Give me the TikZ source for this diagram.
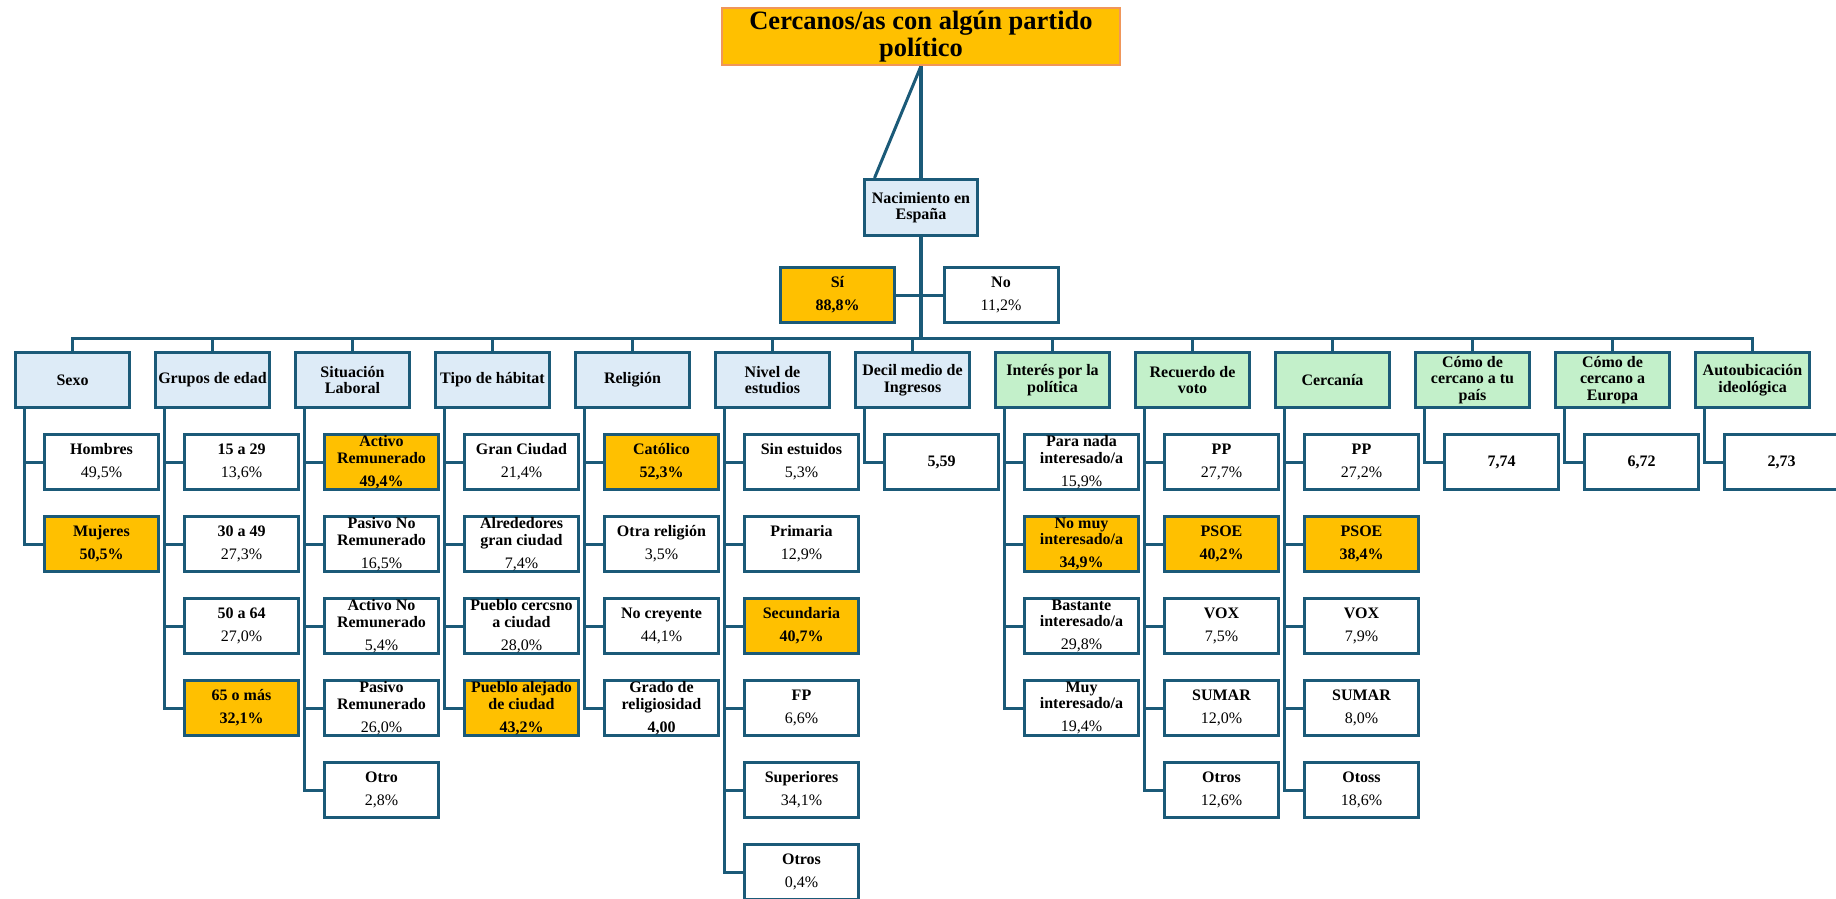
\documentclass[tikz,border=0pt]{standalone}
\usepackage{fontspec}
\setmainfont{Liberation Serif}
\usetikzlibrary{backgrounds}
\definecolor{lc}{HTML}{1B5A78}
\definecolor{catblue}{HTML}{DDEBF7}
\definecolor{catgreen}{HTML}{C3F0CA}
\definecolor{hlor}{HTML}{FFC000}
\definecolor{titbd}{HTML}{F0965A}
\newcommand{\chnode}[5]{\node[#4] (#1) at ({101.5+140*#2},{462+82*#3}) {#5};}
\newcommand{\catnode}[3]{\node[#2] (c#1) at ({72.5+140*#1},380) {#3};}
\begin{document}
\begin{tikzpicture}[x=1pt,y=-1pt,
  box/.style={draw=lc, line width=3pt, minimum width=114pt, minimum height=55pt,
    inner sep=0pt, align=center, font=\fontsize{16}{16.5}\selectfont\bfseries},
  catb/.style={box, fill=catblue},
  catg/.style={box, fill=catgreen},
  child/.style={box, fill=white},
  hl/.style={box, fill=hlor},
  conn/.style={draw=lc, line width=3pt}]
\useasboundingbox (0,0) rectangle (1836,898);
\clip (0,0) rectangle (1836,898);
% title
\node[draw=titbd, line width=2pt, fill=hlor, minimum width=398pt, minimum height=57pt,
  inner sep=0pt, align=center, font=\fontsize{26.5}{27.5}\selectfont\bfseries]
  (title) at (921,36.5) {Cercanos/as con algún partido\\político};
\node[catb, minimum width=113pt, minimum height=56pt] (nac) at (921,207.5) {Nacimiento en\\España};
\node[hl] (si) at (837.5,295) {Sí\\[6.5pt]88,8\%};
\node[child] (no) at (1001,295) {No\\[6.5pt]\mdseries 11,2\%};
% categories
\catnode{0}{catb}{Sexo}
\catnode{1}{catb}{Grupos de edad}
\catnode{2}{catb}{Situación\\Laboral}
\catnode{3}{catb}{Tipo de hábitat}
\catnode{4}{catb}{Religión}
\catnode{5}{catb}{Nivel de\\estudios}
\catnode{6}{catb}{Decil medio de\\Ingresos}
\catnode{7}{catg}{Interés por la\\política}
\catnode{8}{catg}{Recuerdo de\\voto}
\catnode{9}{catg}{Cercanía}
\catnode{10}{catg}{Cómo de\\cercano a tu\\país}
\catnode{11}{catg}{Cómo de\\cercano a\\Europa}
\catnode{12}{catg}{Autoubicación\\ideológica}
% children
\chnode{n0-0}{0}{0}{child}{Hombres\\[6.5pt]\mdseries 49,5\%}
\chnode{n0-1}{0}{1}{hl}{Mujeres\\[6.5pt]50,5\%}
\chnode{n1-0}{1}{0}{child}{15 a 29\\[6.5pt]\mdseries 13,6\%}
\chnode{n1-1}{1}{1}{child}{30 a 49\\[6.5pt]\mdseries 27,3\%}
\chnode{n1-2}{1}{2}{child}{50 a 64\\[6.5pt]\mdseries 27,0\%}
\chnode{n1-3}{1}{3}{hl}{65 o más\\[6.5pt]32,1\%}
\chnode{n2-0}{2}{0}{hl}{Activo\\Remunerado\\[6.5pt]49,4\%}
\chnode{n2-1}{2}{1}{child}{Pasivo No\\Remunerado\\[6.5pt]\mdseries 16,5\%}
\chnode{n2-2}{2}{2}{child}{Activo No\\Remunerado\\[6.5pt]\mdseries 5,4\%}
\chnode{n2-3}{2}{3}{child}{Pasivo\\Remunerado\\[6.5pt]\mdseries 26,0\%}
\chnode{n2-4}{2}{4}{child}{Otro\\[6.5pt]\mdseries 2,8\%}
\chnode{n3-0}{3}{0}{child}{Gran Ciudad\\[6.5pt]\mdseries 21,4\%}
\chnode{n3-1}{3}{1}{child}{Alrededores\\gran ciudad\\[6.5pt]\mdseries 7,4\%}
\chnode{n3-2}{3}{2}{child}{Pueblo cercsno\\a ciudad\\[6.5pt]\mdseries 28,0\%}
\chnode{n3-3}{3}{3}{hl}{Pueblo alejado\\de ciudad\\[6.5pt]43,2\%}
\chnode{n4-0}{4}{0}{hl}{Católico\\[6.5pt]52,3\%}
\chnode{n4-1}{4}{1}{child}{Otra religión\\[6.5pt]\mdseries 3,5\%}
\chnode{n4-2}{4}{2}{child}{No creyente\\[6.5pt]\mdseries 44,1\%}
\chnode{n4-3}{4}{3}{child}{Grado de\\religiosidad\\[6.5pt]4,00}
\chnode{n5-0}{5}{0}{child}{Sin estuidos\\[6.5pt]\mdseries 5,3\%}
\chnode{n5-1}{5}{1}{child}{Primaria\\[6.5pt]\mdseries 12,9\%}
\chnode{n5-2}{5}{2}{hl}{Secundaria\\[6.5pt]40,7\%}
\chnode{n5-3}{5}{3}{child}{FP\\[6.5pt]\mdseries 6,6\%}
\chnode{n5-4}{5}{4}{child}{Superiores\\[6.5pt]\mdseries 34,1\%}
\chnode{n5-5}{5}{5}{child}{Otros\\[6.5pt]\mdseries 0,4\%}
\chnode{n6-0}{6}{0}{child}{5,59}
\chnode{n7-0}{7}{0}{child}{Para nada\\interesado/a\\[6.5pt]\mdseries 15,9\%}
\chnode{n7-1}{7}{1}{hl}{No muy\\interesado/a\\[6.5pt]34,9\%}
\chnode{n7-2}{7}{2}{child}{Bastante\\interesado/a\\[6.5pt]\mdseries 29,8\%}
\chnode{n7-3}{7}{3}{child}{Muy\\interesado/a\\[6.5pt]\mdseries 19,4\%}
\chnode{n8-0}{8}{0}{child}{PP\\[6.5pt]\mdseries 27,7\%}
\chnode{n8-1}{8}{1}{hl}{PSOE\\[6.5pt]40,2\%}
\chnode{n8-2}{8}{2}{child}{VOX\\[6.5pt]\mdseries 7,5\%}
\chnode{n8-3}{8}{3}{child}{SUMAR\\[6.5pt]\mdseries 12,0\%}
\chnode{n8-4}{8}{4}{child}{Otros\\[6.5pt]\mdseries 12,6\%}
\chnode{n9-0}{9}{0}{child}{PP\\[6.5pt]\mdseries 27,2\%}
\chnode{n9-1}{9}{1}{hl}{PSOE\\[6.5pt]38,4\%}
\chnode{n9-2}{9}{2}{child}{VOX\\[6.5pt]\mdseries 7,9\%}
\chnode{n9-3}{9}{3}{child}{SUMAR\\[6.5pt]\mdseries 8,0\%}
\chnode{n9-4}{9}{4}{child}{Otoss\\[6.5pt]\mdseries 18,6\%}
\chnode{n10-0}{10}{0}{child}{7,74}
\chnode{n11-0}{11}{0}{child}{6,72}
\chnode{n12-0}{12}{0}{child}{2,73}
% connectors
\begin{scope}[on background layer]
\coordinate (bus) at (0,338);
\draw[conn, line width=3.5pt] (title.south) -- (title.south |- bus);
\draw[conn] (title.south) -- ([xshift=11.5pt]nac.north west);
\draw[conn] (si.east) -- (no.west);
\draw[conn] (c0.north) -- (c0.north |- bus) -- (c12.north |- bus) -- (c12.north);
\foreach \k in {1,...,11} {\draw[conn] (c\k.north) -- (c\k.north |- bus);}
\foreach \k/\m in {0/1,1/3,2/4,3/3,4/3,5/5,6/0,7/3,8/4,9/4,10/0,11/0,12/0} {
  \foreach \r in {0,...,\m} {
    \draw[conn] ([xshift=10.5pt]c\k.south west) |- (n\k-\r.west);
  }
}
\end{scope}
\end{tikzpicture}
\end{document}
